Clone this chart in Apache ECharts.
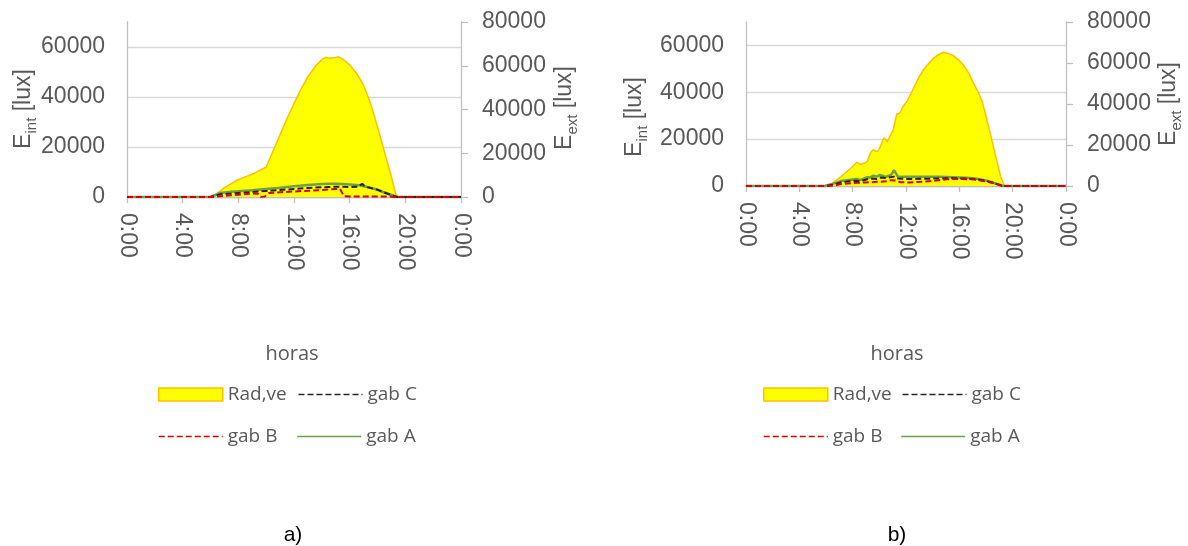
<!DOCTYPE html>
<html>
<head>
<meta charset="utf-8">
<script src="https://cdn.jsdelivr.net/npm/echarts@6/dist/echarts.min.js"></script>
<style>
html,body{margin:0;padding:0;background:#fff;}
#c{width:1188px;height:546px;}
</style>
</head>
<body>
<div id="c"></div>
<script>
// ---------- DATA ----------
const seriesNames = ['Rad,ve', 'gab C', 'gab B', 'gab A'];
const xTickHours = [0, 4, 8, 12, 16, 20, 24];

// Chart a)
const radA_h = [0, 6.1, 6.5, 7.0, 7.8, 8.5, 9.2, 10.0, 10.5, 11.0, 11.5, 12.0, 12.5, 13.0, 13.5, 14.0, 14.3, 14.6, 15.0, 15.2, 15.6, 16.0, 16.5, 17.0, 17.5, 18.0, 18.5, 19.0, 19.3, 19.5, 24];
const radA_v = [0, 0, 1800, 4300, 7300, 9200, 11000, 13700, 21000, 28500, 35900, 42700, 49200, 55000, 59500, 62900, 63800, 63400, 63800, 64100, 62600, 60300, 56500, 51100, 42800, 32100, 20600, 9200, 1500, 0, 0];

const gabA_a_h = [0, 6.0, 6.7, 7.5, 8.0, 9.0, 10.0, 11.0, 11.5, 12.0, 13.0, 14.0, 14.5, 15.0, 15.5, 16.0, 16.7, 17.5, 18.0, 18.4, 19.0, 19.4, 24];
const gabA_a_v = [0, 0, 1600, 2100, 2300, 2700, 3200, 3700, 4000, 4300, 4800, 5200, 5300, 5300, 5200, 5000, 4700, 3700, 2900, 2000, 800, 0, 0];

const gabC_a_h = [0, 6.0, 6.7, 7.5, 8.0, 9.0, 10.0, 11.0, 11.5, 12.0, 13.0, 14.0, 14.5, 15.0, 15.5, 16.0, 16.6, 16.9, 17.1, 17.5, 18.0, 18.4, 19.0, 19.4, 24];
const gabC_a_v = [0, 0, 1100, 1400, 1600, 2000, 2400, 2800, 3000, 3200, 3600, 3900, 4000, 4100, 4100, 4000, 4100, 5300, 4200, 3600, 2900, 2000, 800, 0, 0];

const gabB_a_h = [0, 6.2, 6.7, 7.5, 8.0, 9.0, 9.4, 9.6, 9.9, 10.2, 11.0, 12.0, 13.0, 14.0, 15.0, 15.3, 15.6, 16.0, 17.0, 18.0, 18.9, 19.2, 24];
const gabB_a_v = [0, 0, 300, 700, 900, 1400, 1300, 100, 200, 1600, 1900, 2200, 2500, 2800, 3200, 3300, 300, 200, 200, 200, 200, 0, 0];

// Chart b)
const radB_h = [0, 5.9, 6.4, 6.8, 7.2, 7.7, 8.0, 8.3, 8.55, 8.9, 9.1, 9.35, 9.55, 9.75, 9.95, 10.35, 10.6, 10.85, 11.05, 11.3, 11.55, 11.75, 12.1, 12.4, 12.7, 13.0, 13.3, 13.6, 14.0, 14.4, 14.8, 15.1, 15.5, 15.9, 16.3, 16.7, 17.0, 17.4, 17.7, 18.0, 18.4, 18.8, 19.1, 19.4, 24];
const radB_v = [0, 0, 1200, 2900, 5000, 7800, 9500, 11600, 10600, 11200, 12000, 16500, 17800, 16800, 17400, 23500, 21600, 25000, 27500, 35000, 35600, 38500, 41500, 45500, 49500, 53500, 56500, 59000, 62000, 64000, 65200, 64800, 63800, 61800, 59000, 55200, 50900, 46000, 41500, 34000, 23500, 12500, 4500, 0, 0];

const gabA_b_h = [0, 5.9, 6.5, 7.1, 7.6, 8.0, 8.3, 8.6, 9.06, 9.3, 9.55, 9.8, 10.06, 10.5, 10.9, 11.1, 11.4, 12.0, 12.55, 13.5, 14.5, 15.5, 16.55, 17.3, 18.0, 18.6, 19.3, 24];
const gabA_b_v = [0, 0, 900, 2100, 2500, 2800, 3000, 2600, 3700, 3600, 4400, 4000, 4700, 3900, 4800, 6800, 3900, 3900, 4000, 4000, 3900, 3700, 3500, 3100, 2400, 1300, 0, 0];

const gabC_b_h = [0, 6.0, 6.6, 7.1, 7.6, 8.3, 8.6, 9.1, 9.5, 9.8, 10.1, 10.5, 11.1, 11.4, 12.0, 12.6, 13.5, 14.5, 15.5, 16.5, 17.3, 18.0, 18.6, 19.3, 24];
const gabC_b_v = [0, 0, 600, 1500, 1900, 2200, 2000, 2900, 3200, 3000, 3600, 3400, 4000, 3200, 3000, 3000, 3100, 3200, 3300, 3200, 2900, 2200, 1200, 0, 0];

const gabB_b_h = [0, 6.2, 6.7, 7.1, 7.6, 8.3, 9.0, 10.0, 10.5, 10.9, 11.2, 11.6, 12.2, 13.1, 14.0, 15.1, 16.0, 17.1, 17.8, 18.5, 19.2, 24];
const gabB_b_v = [0, 0, 300, 800, 1100, 1400, 1500, 1800, 2000, 2500, 2300, 1600, 1500, 1800, 2200, 2900, 3000, 2800, 2100, 1400, 0, 0];

// ---------- STYLE / BUILD ----------
function zip(h, v) { return h.map((x, i) => [x, v[i]]); }
const AX = '#bfbfbf', GRID = '#d9d9d9', TXT = '#595959', FONT = 'Liberation Sans', LFONT = 'Open Sans';
const grids = [
  { left: 127, top: 22, width: 334, height: 175 },
  { left: 746, top: 22, width: 320, height: 164 }
];

function xAx(gi) {
  return {
    type: 'value', gridIndex: gi, min: 0, max: 24, interval: 4,
    axisLine: { show: true, lineStyle: { color: AX, width: 1.3 } },
    axisTick: { show: true, length: 6, lineStyle: { color: AX, width: 1.3 } },
    splitLine: { show: false },
    axisLabel: { rotate: -90, margin: 16, fontSize: 23, color: TXT, fontFamily: FONT,
      formatter: v => (v % 24) + ':00' }
  };
}
function yLeft(gi) {
  return {
    type: 'value', gridIndex: gi, position: 'left', min: 0, max: 70000, interval: 20000,
    axisLine: { show: true, lineStyle: { color: AX, width: 1.3 } },
    axisTick: { show: false },
    splitLine: { show: true, showMaxLine: false, lineStyle: { color: GRID, width: 1.3 } },
    axisLabel: { margin: 22, fontSize: 23, color: TXT, fontFamily: FONT, showMaxLabel: false,
      formatter: v => v === 70000 ? '' : String(v) }
  };
}
function yRight(gi) {
  return {
    type: 'value', gridIndex: gi, position: 'right', min: 0, max: 80000, interval: 20000,
    axisLine: { show: true, lineStyle: { color: AX, width: 1.3 } },
    axisTick: { show: true, length: 7, lineStyle: { color: AX, width: 1.3 } },
    splitLine: { show: false },
    axisLabel: { margin: 21, fontSize: 23, color: TXT, fontFamily: FONT, formatter: v => String(v) }
  };
}

function areaSeries(xi, yi, data) {
  return { name: seriesNames[0], type: 'line', xAxisIndex: xi, yAxisIndex: yi, data: data,
    symbol: 'none', smooth: false,
    itemStyle: { color: '#ffff00', borderColor: '#ffc000' },
    lineStyle: { color: '#ffc000', width: 1.5 },
    areaStyle: { color: '#ffff00', opacity: 1 }, z: 1 };
}
function lineSeries(name, xi, yi, data, color, type, width, z) {
  return { name: name, type: 'line', xAxisIndex: xi, yAxisIndex: yi, data: data,
    symbol: 'none', smooth: false,
    itemStyle: { color: color },
    lineStyle: { color: color, width: width, type: type }, z: z };
}

const GREEN = '#6f9e4c', BLACK = '#262626', RED = '#d80000';
const series = [
  areaSeries(0, 1, zip(radA_h, radA_v)),
  lineSeries('gab A', 0, 0, zip(gabA_a_h, gabA_a_v), GREEN, 'solid', 2.5, 3),
  lineSeries('gab C', 0, 0, zip(gabC_a_h, gabC_a_v), BLACK, [6, 3], 2, 4),
  lineSeries('gab B', 0, 0, zip(gabB_a_h, gabB_a_v), RED, [6, 3], 2, 5),
  areaSeries(1, 3, zip(radB_h, radB_v)),
  lineSeries('gab A', 1, 2, zip(gabA_b_h, gabA_b_v), GREEN, 'solid', 2.5, 3),
  lineSeries('gab C', 1, 2, zip(gabC_b_h, gabC_b_v), BLACK, [6, 3], 2, 4),
  lineSeries('gab B', 1, 2, zip(gabB_b_h, gabB_b_v), RED, [6, 3], 2, 5)
];

function legend(left, top, names, gap) {
  return {
    left: left, top: top, orient: 'horizontal', padding: 0,
    itemWidth: 64, itemHeight: 13, itemGap: gap, itemTextGap: 7, selectedMode: false,
    itemStyle: { opacity: 0 },
    lineStyle: { width: 1.5 },
    textStyle: { color: TXT, fontSize: 19, fontFamily: LFONT },
    data: names.map(n => n === seriesNames[0]
      ? { name: n, icon: 'rect', itemStyle: { color: '#ffff00', borderColor: '#ffc000', borderWidth: 1.5, opacity: 1 } }
      : n)
  };
}

function yTitle(x, y, sub) {
  return {
    type: 'text', x: x, y: y, rotation: Math.PI / 2,
    style: {
      text: '{a|E}{b|' + sub + '}{a| [lux]}',
      align: 'center', verticalAlign: 'middle',
      rich: {
        a: { fontSize: 23, fontFamily: FONT, fill: TXT, verticalAlign: 'bottom', padding: [0, 0, 4, 0] },
        b: { fontSize: 15, fontFamily: FONT, fill: TXT, verticalAlign: 'bottom' }
      }
    }
  };
}
function plainText(x, y, text, size, family, color) {
  return { type: 'text', x: x, y: y,
    style: { text: text, fontSize: size, fontFamily: family, fill: color, align: 'center', verticalAlign: 'middle' } };
}

const option = {
  animation: false,
  backgroundColor: '#ffffff',
  grid: grids,
  xAxis: [xAx(0), xAx(1)],
  yAxis: [yLeft(0), yRight(0), yLeft(1), yRight(1)],
  legend: [
    legend(158, 385, [seriesNames[0], seriesNames[1]], 11),
    legend(158, 427, [seriesNames[2], seriesNames[3]], 19),
    legend(763, 385, [seriesNames[0], seriesNames[1]], 10),
    legend(763, 427, [seriesNames[2], seriesNames[3]], 18)
  ],
  graphic: [
    yTitle(26, 109, 'int'),
    yTitle(567, 108, 'ext'),
    yTitle(637, 117, 'int'),
    yTitle(1171, 104, 'ext'),
    plainText(292, 354, 'horas', 20, LFONT, TXT),
    plainText(897, 354, 'horas', 20, LFONT, TXT),
    plainText(293, 535, 'a)', 21, FONT, '#000000'),
    plainText(897, 535, 'b)', 21, FONT, '#000000')
  ],
  series: series
};

const chart = echarts.init(document.getElementById('c'), null, { renderer: 'canvas' });
chart.setOption(option);
</script>
</body>
</html>
